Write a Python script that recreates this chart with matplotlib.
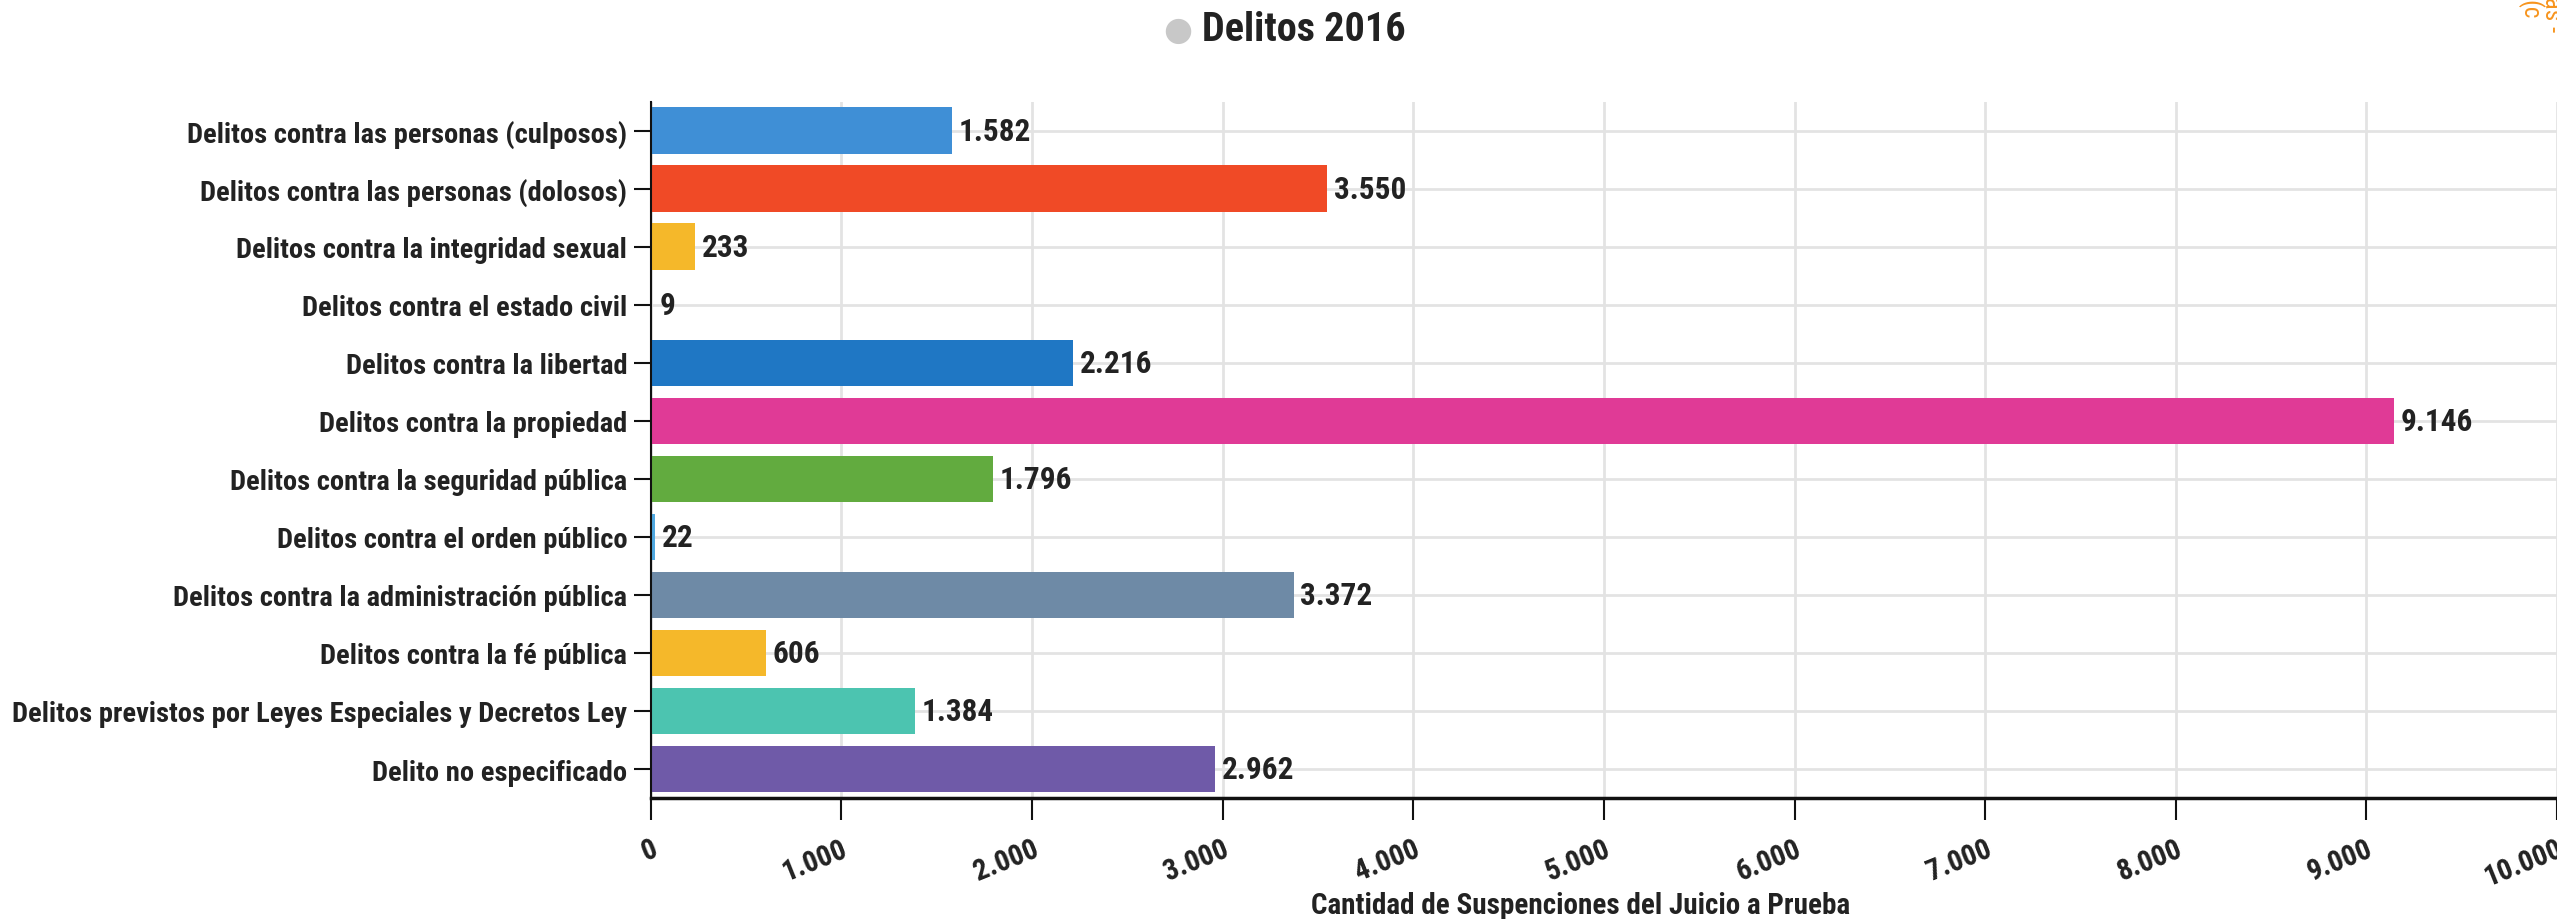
import matplotlib

matplotlib.use("Agg")
import matplotlib.pyplot as plt
from matplotlib import font_manager
from matplotlib.ticker import FuncFormatter

# the reference uses a condensed bold face; take the first narrow family available
def _pick_narrow():
    names = {f.name for f in font_manager.fontManager.ttflist}
    for fam in ["Roboto Condensed", "Liberation Sans Narrow", "Open Sans Condensed",
                "Noto Sans Condensed", "DejaVu Sans Condensed"]:
        if fam in names:
            return fam, "normal"
    stretched = [f for f in font_manager.fontManager.ttflist
                 if "ondensed" in f.fname or "arrow" in f.fname]
    for f in stretched:
        return f.name, "condensed"
    return "Roboto", "normal"


FAMILY, STRETCH = _pick_narrow()
plt.rcParams["font.family"] = [FAMILY, "DejaVu Sans"]
plt.rcParams["font.stretch"] = STRETCH
plt.rcParams["font.weight"] = "bold"

# data (top to bottom)
categories = [
    "Delitos contra las personas (culposos)",
    "Delitos contra las personas (dolosos)",
    "Delitos contra la integridad sexual",
    "Delitos contra el estado civil",
    "Delitos contra la libertad",
    "Delitos contra la propiedad",
    "Delitos contra la seguridad pública",
    "Delitos contra el orden público",
    "Delitos contra la administración pública",
    "Delitos contra la fé pública",
    "Delitos previstos por Leyes Especiales y Decretos Ley",
    "Delito no especificado",
]
values = [1582, 3550, 233, 9, 2216, 9146, 1796, 22, 3372, 606, 1384, 2962]
colors = [
    "#3f8fd6", "#f04a26", "#f5b82a", "#8c8c8c", "#1f77c4", "#e03a96",
    "#62ab3f", "#4fa8e0", "#6e8aa6", "#f5b82a", "#4cc4b0", "#6f5aa8",
]
x_ticks = list(range(0, 10001, 1000))

TEXT = "#222222"


def fmt_es(v, _pos=None):
    return f"{int(v):,}".replace(",", ".")


fig = plt.figure(figsize=(25.57, 9.2), dpi=100)
ax = fig.add_axes([0.2545, 0.1315, 0.7455, 0.757])

ys = list(range(len(categories)))
ax.barh(ys, values, height=0.8, color=colors, zorder=2)
for y, v in zip(ys, values):
    ax.text(v + 35, y, fmt_es(v), va="center", ha="left", fontsize=22.5,
            fontweight="bold", color=TEXT, zorder=3)

ax.set_ylim(len(categories) - 0.5, -0.5)
ax.set_xlim(0, 10000)
ax.set_yticks(ys)
ax.set_yticklabels(categories, fontsize=20.5, fontweight="bold", color=TEXT)
ax.set_xticks(x_ticks)
ax.xaxis.set_major_formatter(FuncFormatter(fmt_es))
for lab in ax.get_xticklabels():
    lab.set_rotation(22)
    lab.set_ha("right")
    lab.set_fontsize(21)
    lab.set_fontweight("bold")
    lab.set_color(TEXT)
    lab.set_rotation_mode("anchor")

ax.tick_params(axis="x", length=16, width=1.5, color="#111111", pad=10)
ax.tick_params(axis="y", length=12, width=1.5, color="#111111", pad=5)
ax.grid(True, color="#e3e3e3", linewidth=2, zorder=0)
ax.set_axisbelow(True)
for side in ("top", "right"):
    ax.spines[side].set_visible(False)
ax.spines["left"].set_linewidth(1.5)
ax.spines["bottom"].set_linewidth(2.5)
ax.spines["left"].set_color("#111111")
ax.spines["bottom"].set_color("#111111")

ax.set_xlabel("Cantidad de Suspenciones del Juicio a Prueba", fontsize=21,
              fontweight="bold", color=TEXT)
ax.xaxis.set_label_coords(0.488, -0.133)

# title with grey legend dot
fig.text(0.4607, 0.967, "\u25cf", fontsize=24, color="#c8c8c8", ha="center", va="center",
         family="DejaVu Sans")
fig.text(0.4700, 0.967, "Delitos 2016", fontsize=29, fontweight="bold",
         color=TEXT, ha="left", va="center")

# clipped orange text at the top-right edge
fig.text(0.9895, 1.0, "(c", fontsize=18, color="#f7941d", rotation=-90,
         ha="center", va="top", fontweight="normal")
fig.text(0.998, 1.01, "las -", fontsize=18, color="#f7941d", rotation=-90,
         ha="center", va="top", fontweight="normal")

fig.savefig("out.png", dpi=100)
